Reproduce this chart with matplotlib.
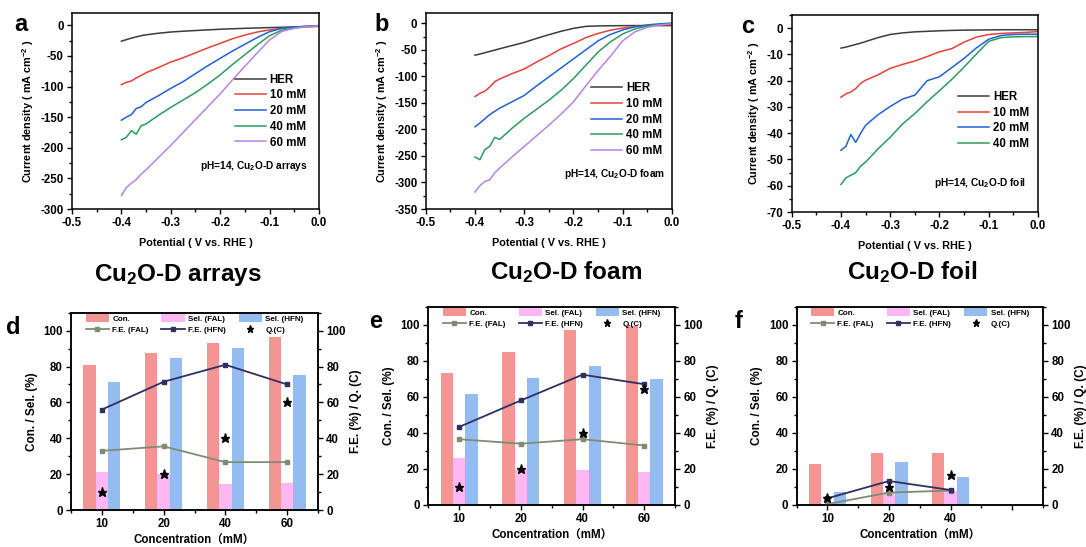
import matplotlib
matplotlib.use('Agg')
import matplotlib.pyplot as plt
import numpy as np
from matplotlib.ticker import MultipleLocator

plt.rcParams['font.family'] = ['Liberation Sans', 'Noto Sans CJK SC', 'DejaVu Sans']
plt.rcParams['font.weight'] = 'bold'
plt.rcParams['axes.labelweight'] = 'bold'
plt.rcParams['axes.unicode_minus'] = False
plt.rcParams['mathtext.fontset'] = 'custom'
plt.rcParams['mathtext.rm'] = 'Liberation Sans:bold'
plt.rcParams['mathtext.it'] = 'Liberation Sans:bold'
plt.rcParams['mathtext.bf'] = 'Liberation Sans:bold'

# ---- LSV data (potential in V vs RHE, current density in mA cm-2) ----
V = [-0.4, -0.39, -0.38, -0.37, -0.36, -0.35, -0.325, -0.3, -0.275, -0.25,
     -0.225, -0.2, -0.175, -0.15, -0.125, -0.1, -0.075, -0.05, -0.025, 0.0]

a_her = [-26, -23.5, -21, -19, -17, -15.6, -13, -11, -9.7, -8.6,
         -7.5, -6.5, -5.7, -5, -4.4, -3.8, -3.2, -2.7, -2.1, -1.6]
a_10 = [-97, -93, -91, -86, -82, -77.5, -69, -60, -53, -45,
        -37, -29.5, -22, -16, -11, -7.5, -5, -3.5, -2.5, -1.8]
a_20 = [-155, -150, -146, -136, -133, -126, -115, -103, -92, -79,
        -66, -54, -42, -31, -20, -10.5, -5, -3, -1.5, -0.5]
a_40 = [-187, -183, -172, -178, -164, -161, -147, -134, -122, -110,
        -96, -81, -64, -48, -32, -17, -8, -4.5, -2, -1]
a_60 = [-278, -265, -258, -252, -243, -236, -216, -196, -175, -154,
        -133, -112, -89, -67, -45, -24, -10, -5, -2.5, -1]

b_her = [-60, -58, -55.5, -53, -50.5, -48, -42, -36, -28.5, -21.5,
         -15, -9.5, -5.8, -5, -4.6, -4.4, -4.3, -4.3, -4.3, -4.3]
b_10 = [-138, -132, -128, -120, -110, -105, -95, -86, -73, -61,
        -48, -38, -27, -19, -13, -9, -6, -4.5, -3.2, -2.5]
b_20 = [-195, -188, -180, -172, -166, -160, -148, -136, -118, -101,
        -84, -67, -50, -33, -21, -12.5, -6.5, -3, -1, 0.5]
b_40 = [-252, -257, -238, -232, -215, -219, -198, -179, -162, -145,
        -126, -104, -79, -54, -35, -20, -10.5, -5, -2.5, -1]
b_60 = [-318, -306, -298, -295, -282, -273, -252, -232, -212, -192,
        -171, -148, -118, -89, -62, -33, -16, -7.5, -3, -1]

c_her = [-7.6, -7.2, -6.7, -6.2, -5.7, -5.1, -3.6, -2.4, -1.8, -1.4,
         -1.2, -1.0, -0.85, -0.75, -0.7, -0.65, -0.6, -0.6, -0.6, -0.6]
c_10 = [-26.3, -25, -24.3, -23, -21, -19.8, -17.8, -15.3, -13.8, -12.5,
        -10.8, -9.0, -7.8, -5.3, -3.4, -2.4, -2.0, -1.8, -1.6, -1.3]
c_20 = [-46.5, -45, -40.5, -43.5, -40, -37, -33, -29.8, -27, -25.5,
        -20, -18.5, -15, -11.5, -7.5, -4.2, -2.8, -2.4, -2.3, -2.3]
c_40 = [-59.5, -57, -56, -55, -52.5, -51, -46, -41.5, -36.5, -32.5,
        -28, -23.8, -19.5, -14.8, -9.8, -5, -3.6, -3.3, -3.2, -3.2]

# ---- conversion / selectivity / FE / charge data ----
d_conc = ['10', '20', '40', '60']
d_con = [81, 87.5, 93, 96.3]
d_sel_fal = [21, 20, 14.4, 14.8]
d_sel_hfn = [71.5, 85, 90.4, 75]
d_fe_fal = [33, 35.5, 26.7, 26.7]
d_fe_hfn = [56, 71.5, 81, 70]
d_q = [10, 20, 40, 60]

e_conc = ['10', '20', '40', '60']
e_con = [73.3, 85, 97.2, 99.5]
e_sel_fal = [26, 20, 19.5, 18.5]
e_sel_hfn = [61.3, 70.7, 77.3, 69.8]
e_fe_fal = [36.5, 34, 36.5, 33]
e_fe_hfn = [43.3, 58, 72.3, 67]
e_q = [10, 20, 40, 64.5]

f_conc = ['10', '20', '40']
f_con = [22.8, 28.8, 28.8]
f_sel_fal = [0.5, 7, 8]
f_sel_hfn = [7, 24, 15.3]
f_fe_fal = [0.5, 6.9, 8]
f_fe_hfn = [3.7, 13.3, 8.3]
f_q = [4, 9.8, 16.5]

line_colors = ['#3c3c3c', '#e8413b', '#1f63d6', '#2a9c5c', '#b783e6']
line_labels = ['HER', '10 mM', '20 mM', '40 mM', '60 mM']
c_con, c_fal, c_hfn = '#f29593', '#fdb7f3', '#94bcf1'
c_fefal, c_fehfn = '#7f8c74', '#2f3060'

fig = plt.figure(figsize=(10.86, 5.47), dpi=100)


def style_axes(ax, size=8):
    for s in ax.spines.values():
        s.set_linewidth(1.1)
    ax.tick_params(which='both', direction='out', width=1.0, labelsize=size,
                   pad=2.5)
    ax.tick_params(which='major', length=3.5)
    ax.tick_params(which='minor', length=2)


def lsv_panel(rect, curves, ymin, ystep, yminor, letter, lx, note, leg_xy):
    ax = fig.add_axes(rect)
    for y, col, lab in zip(curves, line_colors, line_labels):
        ax.plot(V, y, color=col, lw=1.1, label=lab)
    ax.set_xlim(-0.5, 0.0)
    ax.set_ylim(ymin, 20 if ymin < -100 else 5)
    ax.xaxis.set_major_locator(MultipleLocator(0.1))
    ax.xaxis.set_minor_locator(MultipleLocator(0.05))
    ax.yaxis.set_major_locator(MultipleLocator(ystep))
    ax.yaxis.set_minor_locator(MultipleLocator(yminor))
    ax.xaxis.set_major_formatter(plt.FuncFormatter(lambda v, p: '%.1f' % v))
    style_axes(ax, 8.3)
    ax.set_xlabel('Potential ( V vs. RHE )', fontsize=7.8, labelpad=6)
    ax.set_ylabel('Current density ( mA cm$^{-2}$ )', fontsize=7.8, labelpad=3)
    ax.legend(loc='upper left', bbox_to_anchor=leg_xy, frameon=False,
              fontsize=8.3, handlelength=2.7, handletextpad=0.3,
              labelspacing=0.32, borderpad=0, borderaxespad=0)
    ax.text(note[0], note[1], note[2], transform=ax.transAxes,
            ha='right', va='center', fontsize=7.3)
    ax.text(lx, 1.0, letter, transform=ax.transAxes, fontsize=17,
            fontweight='bold', va='top')
    return ax


lsv_panel([0.0663, 0.6179, 0.2274, 0.3583], [a_her, a_10, a_20, a_40, a_60],
          -300, 50, 25, 'a', -0.235, (0.955, 0.219, 'pH=14, Cu$_2$O-D arrays'),
          (0.66, 0.69))
lsv_panel([0.392, 0.6179, 0.2268, 0.3589], [b_her, b_10, b_20, b_40, b_60],
          -350, 50, 25, 'b', -0.21, (0.972, 0.178, 'pH=14, Cu$_2$O-D foam'),
          (0.672, 0.645))
lsv_panel([0.729, 0.6124, 0.2268, 0.3601], [c_her, c_10, c_20, c_40],
          -70, 10, 5, 'c', -0.205, (0.951, 0.149, 'pH=14, Cu$_2$O-D foil'),
          (0.676, 0.615))

fig.text(0.164, 0.497, r'Cu$_\mathbf{2}$O-D arrays', ha='center', va='center',
         fontsize=17.5)
fig.text(0.521, 0.502, r'Cu$_\mathbf{2}$O-D foam', ha='center', va='center',
         fontsize=17.5)
fig.text(0.840, 0.502, r'Cu$_\mathbf{2}$O-D foil', ha='center', va='center',
         fontsize=17.5)


def bar_panel(rect, conc, con, sel_fal, sel_hfn, fe_fal, fe_hfn, q, letter, lx):
    ax = fig.add_axes(rect)
    x = np.arange(len(conc))
    w = 0.2
    ax.bar(x, sel_fal, w, color=c_fal, zorder=1, label='Sel. (FAL)')
    ax.bar(x - w, con, w, color=c_con, zorder=2, label='Con.')
    ax.bar(x + w, sel_hfn, w, color=c_hfn, zorder=2, label='Sel. (HFN)')
    ax.set_xlim(-0.5, 3.5)
    ax.set_ylim(0, 110)
    ax.set_xticks(np.arange(4))
    ax.set_xticklabels(list(conc) + [''] * (4 - len(conc)))
    ax.set_xticks(np.arange(-0.5, 4, 1.0), minor=True)
    ax.yaxis.set_major_locator(MultipleLocator(20))
    ax.yaxis.set_minor_locator(MultipleLocator(10))
    style_axes(ax, 8.3)
    ax.set_ylabel('Con. / Sel. (%)', fontsize=8.5, labelpad=4)
    ax.set_xlabel('Concentration（mM）', fontsize=8.3, labelpad=3)

    ax2 = ax.twinx()
    ax2.set_ylim(0, 110)
    ax2.yaxis.set_major_locator(MultipleLocator(20))
    ax2.yaxis.set_minor_locator(MultipleLocator(10))
    style_axes(ax2, 8.3)
    ax2.plot(x, fe_fal, color=c_fefal, lw=1.3, marker='s', ms=3.5,
             label='F.E. (FAL)')
    ax2.plot(x, fe_hfn, color=c_fehfn, lw=1.3, marker='s', ms=3.5,
             label='F.E. (HFN)')
    ax2.plot(x, q, ls='none', marker='*', ms=6.5, color='black', label='Q.(C)')
    ax2.set_ylabel('F.E. (%) / Q. (C)', fontsize=8.5, labelpad=3)

    h1, l1 = ax.get_legend_handles_labels()
    h2, l2 = ax2.get_legend_handles_labels()
    hd = dict(zip(l1 + l2, h1 + h2))
    order = ['Con.', 'F.E. (FAL)', 'Sel. (FAL)', 'F.E. (HFN)', 'Sel. (HFN)', 'Q.(C)']
    leg = ax2.legend([hd[k] for k in order], order, loc='upper center',
                     bbox_to_anchor=(0.5, 1.0), ncol=3, frameon=False,
                     fontsize=5.8, numpoints=1, markerscale=0.8,
                     handlelength=2.9, handleheight=1.0, handletextpad=0.4,
                     columnspacing=1.6, labelspacing=0.35, borderpad=0.1,
                     borderaxespad=0.1)
    ax.text(lx, 0.985, letter, transform=ax.transAxes, fontsize=17,
            fontweight='bold', va='top')


bar_panel([0.0654, 0.0676, 0.2274, 0.3607], d_conc, d_con, d_sel_fal,
          d_sel_hfn, d_fe_fal, d_fe_hfn, d_q, 'd', -0.265)
bar_panel([0.3944, 0.0768, 0.2272, 0.3625], e_conc, e_con, e_sel_fal,
          e_sel_hfn, e_fe_fal, e_fe_hfn, e_q, 'e', -0.24)
bar_panel([0.7336, 0.0768, 0.2268, 0.3625], f_conc, f_con, f_sel_fal,
          f_sel_hfn, f_fe_fal, f_fe_hfn, f_q, 'f', -0.25)

fig.savefig('out.png', dpi=100)
